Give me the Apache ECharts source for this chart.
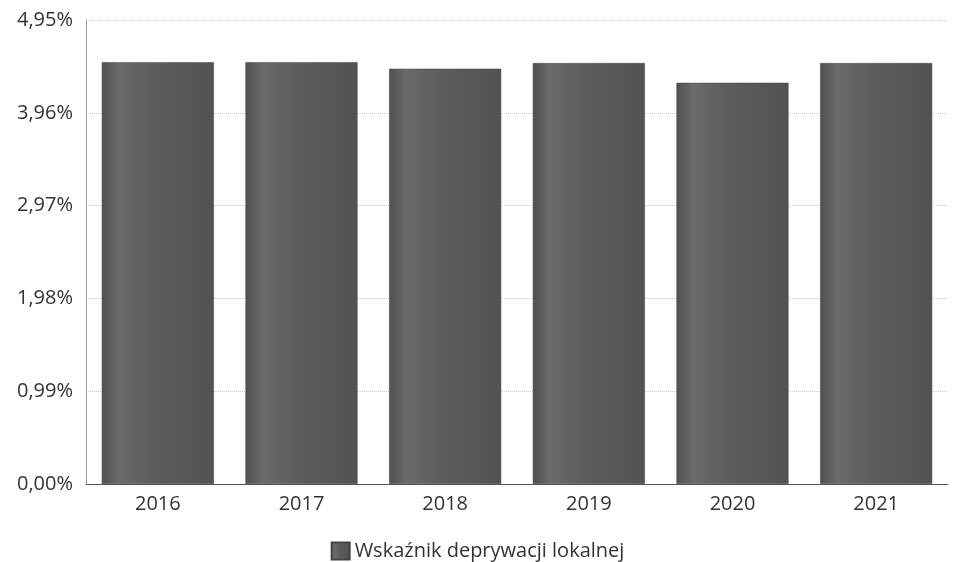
<!DOCTYPE html>
<html>
<head>
<meta charset="utf-8">
<script src="https://cdn.jsdelivr.net/npm/echarts@6/dist/echarts.min.js"></script>
<style>
  html, body { margin: 0; padding: 0; background: #fff; }
  #chart { width: 955px; height: 562px; }
</style>
</head>
<body>
<div id="chart"></div>
<script>
// dane
var years = ['2016', '2017', '2018', '2019', '2020', '2021'];
var wskaznik = [4.50, 4.50, 4.43, 4.49, 4.28, 4.49];
var seriesName = 'Wskaźnik deprywacji lokalnej';

var chart = echarts.init(document.getElementById('chart'));

var barColor = new echarts.graphic.LinearGradient(0, 0, 1, 0, [
  { offset: 0, color: '#505050' },
  { offset: 0.15, color: '#6a6a6a' },
  { offset: 0.5, color: '#5c5c5c' },
  { offset: 1, color: '#525252' }
]);

chart.setOption({
  animation: false,
  textStyle: { fontFamily: '"Open Sans", "Noto Sans", sans-serif' },
  grid: { left: 86, right: 7, top: 20, bottom: 78 },
  legend: {
    data: [{ name: seriesName, icon: 'rect' }],
    top: 536,
    left: 'center',
    itemWidth: 18,
    itemHeight: 17,
    itemGap: 6,
    textStyle: { fontSize: 20, color: '#333' }
  },
  xAxis: {
    type: 'category',
    data: years,
    axisLine: { show: true, lineStyle: { color: '#555', width: 1 } },
    axisTick: { show: false },
    axisLabel: { fontSize: 20, color: '#333', margin: 10 }
  },
  yAxis: {
    type: 'value',
    min: 0,
    max: 4.95,
    interval: 0.99,
    axisLine: { show: true, lineStyle: { color: '#999', width: 1 } },
    axisTick: { show: false },
    axisLabel: {
      fontSize: 20,
      color: '#333',
      margin: 13,
      formatter: function (v) { return v.toFixed(2).replace('.', ',') + '%'; }
    },
    splitLine: { show: true, lineStyle: { color: '#ccc', type: 'dotted', width: 1 } }
  },
  series: [
    {
      name: seriesName,
      type: 'bar',
      data: wskaznik,
      barCategoryGap: '22%',
      itemStyle: { color: barColor, borderColor: '#444', borderWidth: 0.5 }
    }
  ]
});
</script>
</body>
</html>
